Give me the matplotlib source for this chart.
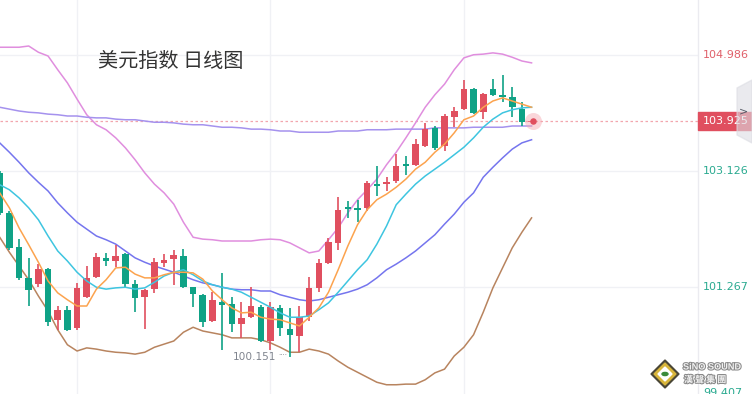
import numpy as np
import matplotlib
matplotlib.use("Agg")
import matplotlib.pyplot as plt
from matplotlib.patches import Polygon, Circle, Rectangle
import matplotlib.patheffects as pe

plt.rcParams['font.family'] = ['Noto Sans CJK SC', 'DejaVu Sans']

# daily OHLC of the dollar index
opens = [103.10, 102.46, 101.91, 101.42, 101.32, 101.56, 100.75, 100.91, 100.62, 101.11,
         101.43, 101.74, 101.69, 101.80, 101.32, 101.11, 101.24, 101.66, 101.72, 101.77,
         101.27, 101.15, 100.73, 101.03, 101.00, 100.68, 100.79, 100.95, 100.41, 100.94,
         100.60, 100.49, 100.79, 101.26, 101.66, 101.98, 102.55, 102.54, 102.54, 102.92,
         102.92, 102.97, 103.24, 103.23, 103.53, 103.82, 103.53, 103.99, 104.12, 104.44,
         104.07, 104.44, 104.35, 104.31, 104.12, 103.91]
highs = [103.13, 102.49, 102.04, 101.74, 101.64, 101.58, 100.97, 100.97, 101.34, 101.61,
         101.82, 101.82, 101.95, 101.82, 101.39, 101.24, 101.74, 101.80, 101.87, 101.88,
         101.27, 101.16, 101.19, 101.50, 101.11, 101.03, 101.27, 100.99, 101.03, 100.99,
         100.94, 100.97, 101.43, 101.72, 102.06, 102.71, 102.65, 102.67, 102.97, 103.21,
         103.03, 103.40, 103.37, 103.64, 103.90, 103.85, 104.04, 104.15, 104.59, 104.46,
         104.38, 104.60, 104.67, 104.47, 104.23, 103.94]
lows = [102.43, 101.87, 101.39, 100.97, 101.27, 100.65, 100.59, 100.57, 100.59, 101.10,
        101.42, 101.61, 101.59, 101.27, 100.88, 100.60, 101.18, 101.59, 101.31, 101.26,
        100.95, 100.63, 100.71, 100.27, 100.55, 100.46, 100.78, 100.39, 100.27, 100.49,
        100.151, 100.23, 100.73, 101.19, 101.64, 101.87, 102.38, 102.31, 102.49, 102.73,
        102.81, 102.94, 103.07, 103.21, 103.51, 103.47, 103.45, 103.83, 104.11, 104.04,
        103.96, 104.33, 104.23, 103.99, 103.85, 103.90]
closes = [102.46, 101.90, 101.42, 101.23, 101.56, 100.71, 100.91, 100.59, 101.26, 101.42,
          101.75, 101.69, 101.77, 101.32, 101.10, 101.23, 101.67, 101.71, 101.79, 101.27,
          101.16, 100.71, 101.07, 100.99, 100.68, 100.78, 100.97, 100.41, 100.95, 100.62,
          100.51, 100.79, 101.26, 101.66, 101.99, 102.51, 102.52, 102.51, 102.94, 102.89,
          102.95, 103.21, 103.21, 103.56, 103.80, 103.50, 104.01, 104.09, 104.44, 104.06,
          104.36, 104.35, 104.31, 104.15, 103.91, 103.925]

ma5 = [102.78, 102.54, 102.22, 101.95, 101.67, 101.37, 101.18, 101.07, 100.97, 100.97,
       101.24, 101.39, 101.58, 101.59, 101.48, 101.42, 101.42, 101.47, 101.51, 101.51,
       101.50, 101.40, 101.21, 101.07, 100.94, 100.86, 100.87, 100.79, 100.76, 100.75,
       100.70, 100.65, 100.79, 100.94, 101.19, 101.55, 101.93, 102.27, 102.51, 102.67,
       102.76, 102.87, 103.00, 103.16, 103.27, 103.43, 103.56, 103.74, 103.95, 104.01,
       104.15, 104.25, 104.30, 104.25, 104.20, 104.15]
ma10 = [102.91, 102.83, 102.70, 102.54, 102.35, 102.09, 101.85, 101.69, 101.51, 101.37,
        101.27, 101.24, 101.26, 101.27, 101.24, 101.26, 101.35, 101.45, 101.51, 101.55,
        101.47, 101.37, 101.31, 101.27, 101.24, 101.19, 101.11, 101.03, 100.95, 100.86,
        100.79, 100.79, 100.81, 100.91, 101.02, 101.19, 101.37, 101.55, 101.71, 101.96,
        102.25, 102.59, 102.76, 102.92, 103.05, 103.16, 103.27, 103.39, 103.51, 103.66,
        103.83, 103.96, 104.06, 104.11, 104.14, 104.15]
ma20 = [103.58, 103.43, 103.27, 103.10, 102.95, 102.81, 102.62, 102.46, 102.31, 102.20,
        102.09, 102.03, 101.96, 101.85, 101.74, 101.67, 101.61, 101.56, 101.51, 101.45,
        101.39, 101.34, 101.31, 101.27, 101.24, 101.23, 101.23, 101.21, 101.21, 101.15,
        101.11, 101.07, 101.05, 101.07, 101.11, 101.15, 101.19, 101.24, 101.31, 101.42,
        101.55, 101.64, 101.74, 101.85, 101.98, 102.11, 102.28, 102.44, 102.63, 102.78,
        103.03, 103.19, 103.34, 103.48, 103.58, 103.63]
upper = [105.11, 105.11, 105.11, 105.13, 105.03, 104.97, 104.75, 104.54, 104.28, 104.03,
         103.87, 103.79, 103.66, 103.50, 103.31, 103.10, 102.92, 102.78, 102.60, 102.31,
         102.07, 102.04, 102.03, 102.01, 102.01, 102.01, 102.01, 102.03, 102.04, 102.03,
         101.98, 101.90, 101.82, 101.85, 102.03, 102.22, 102.46, 102.67, 102.83, 103.00,
         103.23, 103.43, 103.66, 103.90, 104.15, 104.35, 104.52, 104.75, 104.94, 104.99,
         105.00, 105.02, 105.00, 104.95, 104.89, 104.86]
lower = [102.07, 101.83, 101.61, 101.39, 101.13, 100.89, 100.59, 100.35, 100.25, 100.30,
         100.28, 100.25, 100.23, 100.22, 100.20, 100.23, 100.31, 100.36, 100.41, 100.55,
         100.63, 100.57, 100.54, 100.51, 100.46, 100.46, 100.46, 100.43, 100.38, 100.31,
         100.23, 100.23, 100.28, 100.25, 100.20, 100.09, 99.99, 99.91, 99.83, 99.75,
         99.71, 99.71, 99.72, 99.72, 99.79, 99.90, 99.96, 100.17, 100.31, 100.51,
         100.87, 101.26, 101.58, 101.90, 102.15, 102.38]
ma_long = [104.15, 104.12, 104.09, 104.07, 104.06, 104.04, 104.03, 104.01, 104.01, 103.99,
           103.98, 103.98, 103.96, 103.95, 103.95, 103.93, 103.91, 103.91, 103.90, 103.88,
           103.87, 103.87, 103.85, 103.83, 103.83, 103.82, 103.80, 103.80, 103.79, 103.77,
           103.77, 103.75, 103.75, 103.75, 103.75, 103.77, 103.77, 103.77, 103.79, 103.79,
           103.79, 103.80, 103.80, 103.80, 103.80, 103.82, 103.82, 103.82, 103.82, 103.83,
           103.83, 103.83, 103.83, 103.85, 103.85, 103.85]

axis_labels = [104.986, 103.126, 101.267, 99.407]
last_price = 103.925
low_price = 100.151
grid_days = [8, 28, 48]

RED = '#e04f5f'
GREEN = '#0fa286'

W, H = 752, 394
fig = plt.figure(figsize=(W / 100, H / 100), dpi=100)
ax = fig.add_axes([0, 0, 698 / W, 1])
ax.set_xlim(0.03, 72.21)
ax.set_ylim(99.562, 105.866)
ax.axis('off')

# grid
for v in axis_labels[:3]:
    ax.axhline(v, color='#f0f1f5', lw=1, zorder=0)
for d in grid_days:
    ax.axvline(d, color='#f0f1f5', lw=1, zorder=0)

x = np.arange(len(opens))
o, h, l, c = map(np.array, (opens, highs, lows, closes))
cols = np.where(c >= o, RED, GREEN)
ax.vlines(x, l, h, colors=cols, lw=1.2, zorder=3)
bottom = np.minimum(o, c)
height = np.maximum(np.abs(c - o), 0.025)
ax.bar(x, height, bottom=bottom, width=0.68, color=cols, zorder=4, lw=0)

# lines
ax.plot(x, upper, color='#e08ede', lw=1.1, zorder=2)
ax.plot(x, lower, color='#b8845f', lw=1.1, zorder=2)
ax.plot(x, ma20, color='#7575ee', lw=1.1, zorder=2)
ax.plot(x, ma_long, color='#a592ee', lw=1.1, zorder=2)
ax.plot(x, ma10, color='#3ec5e0', lw=1.1, zorder=5)
ax.plot(x, ma5, color='#fca34e', lw=1.1, zorder=5)

# last price line and marker
ax.axhline(last_price, color='#f2a6ae', lw=0.9, ls=(0, (2, 2)), zorder=1)
ax.scatter([x[-1] + 0.15], [last_price], s=150, color='#f4a5ae', alpha=0.45, lw=0, zorder=6)
ax.scatter([x[-1] + 0.15], [last_price], s=22, color=RED, lw=0, zorder=7)

# low annotation
ilow = int(np.argmin(l))
ax.text(ilow - 1.4, low_price - 0.0, '100.151', ha='right', va='center',
        fontsize=7.6, color='#80858f', family=['DejaVu Sans'])
ax.text(ilow - 1.2, low_price + 0.03, '····', ha='left', va='center',
        fontsize=5, color='#80858f', family=['DejaVu Sans'])

# title
ax.text(0.245, 0.845, '美元指数 日线图', transform=ax.transAxes, ha='center', va='center',
        fontsize=14.5, color='#333333')

# right price axis
ax.plot([1.0, 1.0], [0, 1], transform=ax.transAxes, color='#ebebf0', lw=1, clip_on=False)
tr = ax.get_yaxis_transform()
label_cols = ['#e0606a', '#2aaa90', '#2aaa90', '#2aaa90']
for v, cc in zip(axis_labels, label_cols):
    yy = max(v, 99.58)
    ax.text(1.007, yy, f'{v:.3f}', transform=tr, ha='left', va='center',
            fontsize=8, color=cc, family=['DejaVu Sans'], clip_on=False)

fig.patches.append(Rectangle((698 / W, 1 - 130 / H), 54 / W, 18 / H, transform=fig.transFigure,
                             color=RED, zorder=5))
fig.text(703 / W, 1 - 121 / H, f'{last_price:.3f}', ha='left', va='center',
         fontsize=8, color='white', family=['DejaVu Sans'], zorder=6)
hexa = [(737, 88), (752, 80), (752, 143), (737, 135)]
fig.patches.append(Polygon([(px / W, 1 - py / H) for px, py in hexa], closed=True,
                           transform=fig.transFigure, color='#dcdde3', alpha=0.6, zorder=7))
fig.text(744 / W, 1 - 111 / H, '>', ha='center', va='center', fontsize=8,
         color='#555a66', family=['DejaVu Sans'], zorder=8)

# logo
cx, cy = 665, 374
for r, col in [(14, '#4a4636'), (11, '#d8b53a'), (7, '#ffffff')]:
    pts = [(cx, cy - r), (cx + r, cy), (cx, cy + r), (cx - r, cy)]
    fig.patches.append(Polygon([(px / W, 1 - py / H) for px, py in pts], closed=True,
                               transform=fig.transFigure, color=col, zorder=8))
fig.patches.append(Circle((cx / W, 1 - cy / H), 3 / W, transform=fig.transFigure,
                          color='#3a8a3a', zorder=9))
stroke = [pe.withStroke(linewidth=1.5, foreground='#8a8a8a')]
fig.text(683 / W, 1 - 367 / H, 'SiNO SOUND', ha='left', va='center', fontsize=6.6,
         fontweight='bold', color='#f2f2f2', family=['Liberation Sans'], path_effects=stroke, zorder=9)
fig.text(684 / W, 1 - 380 / H, '漢 聲 集 團', ha='left', va='center', fontsize=6.5,
         fontweight='bold', color='#f2f2f2', path_effects=stroke, zorder=9)

fig.savefig('out.png', dpi=100, facecolor='white')
